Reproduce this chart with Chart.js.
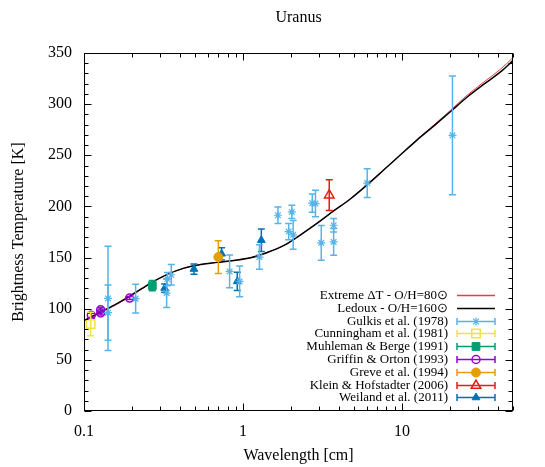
<!DOCTYPE html>
<html><head><meta charset="utf-8">
<script src="https://cdn.jsdelivr.net/npm/chart.js@4.4.0/dist/chart.umd.min.js"></script>
<style>html,body{margin:0;padding:0;background:#fff}canvas{display:block}</style>
</head><body>
<canvas id="c" width="545" height="467"></canvas>
<script>
// ---- data ----
const modelLambda = [0.1, 0.1273, 0.1621, 0.2063, 0.2626, 0.3343, 0.4255, 0.5417, 0.6896, 0.8779, 1.117, 1.422, 1.811, 2.305, 2.934, 3.735, 4.754, 6.053, 7.704, 9.808, 12.49, 15.90, 20.24, 25.76, 32.79, 41.74, 50];
const ledouxT   = [88.5, 96.8, 105.2, 114.9, 125.1, 133.6, 139.7, 143.3, 145.3, 147.2, 149.8, 155.0, 161.9, 172.3, 183.7, 195.8, 207.5, 221.2, 235.8, 250.5, 265.1, 278.8, 292.8, 307.0, 319.5, 331.5, 342.5];
const extremeT  = [88.0, 96.1, 104.5, 114.3, 124.7, 133.3, 139.6, 143.3, 145.3, 147.2, 149.8, 155.0, 161.9, 172.3, 183.7, 195.8, 207.5, 221.3, 236.0, 250.8, 265.6, 279.6, 294.0, 308.8, 321.6, 334.2, 345.5];

const gulkisLambda = [0.1416, 0.1416, 0.2113, 0.331, 0.334, 0.354, 0.824, 0.953, 1.27, 1.66, 2.03, 1.94, 2.07, 2.73, 2.86, 3.11, 3.72, 3.72, 6.05, 20.8];
const gulkisT      = [110.1, 96.1, 109.8, 115.3, 129.0, 133.2, 136.5, 126.7, 150.5, 191.4, 194.6, 175.4, 172.2, 203.2, 202.8, 164.4, 181.6, 165.3, 222.8, 269.5];
const gulkisErr    = [51, 27, 14, 14, 6.5, 10, 16, 15, 12, 8, 6.5, 8, 14, 9, 13, 17, 6.5, 13, 14, 58];

const cunninghamLambda = [0.1101];
const cunninghamT      = [85.0];
const cunninghamErr    = [11.5];

const muhlemanLambda = [0.269];
const muhlemanT      = [122.5];
const muhlemanErr    = [5];

const griffinLambda = [0.1112, 0.1273, 0.1273, 0.1937];
const griffinT      = [93.5, 99.0, 95.8, 110.4];
const griffinErr    = [2, 2, 2, 1.5];

const greveLambda = [0.70];
const greveT      = [150.5];
const greveErr    = [16];

const kleinLambda = [3.49];
const kleinT      = [211.0];
const kleinErr    = [15];

const weilandLambda = [0.3217, 0.4918, 0.734, 0.921, 1.305];
const weilandT      = [120.2, 138.8, 153.7, 126.7, 167.0];
const weilandErr    = [4, 5, 6, 9, 11];

const yTicks = [0, 50, 100, 150, 200, 250, 300, 350];
const xTickLabels = ['0.1', '1', '10'];

// ---- helpers ----
const pts = (xs, ys) => xs.map((x, i) => ({x: x, y: ys[i]}));
const SERIF = '"Liberation Serif", "Times New Roman", serif';
Chart.defaults.font.family = SERIF;
Chart.defaults.color = '#000';

function series(label, xs, ys, errs, color, style, radius, filled, bw) {
  return {
    label: label, data: pts(xs, ys), errors: errs,
    borderColor: color, backgroundColor: filled ? color : 'rgba(0,0,0,0)',
    pointStyle: style, pointRadius: radius, pointHoverRadius: radius,
    pointBorderWidth: bw, borderWidth: bw, showLine: false, order: 0
  };
}

const datasets = [
  {label: 'Extreme \u0394T - O/H=80\u2299', data: pts(modelLambda, extremeT), borderColor: '#f03c3c', borderWidth: 1,
   pointRadius: 0, showLine: true, cubicInterpolationMode: 'monotone', order: 10, isModel: true, legendWidth: 1.3},
  {label: 'Ledoux - O/H=160\u2299', data: pts(modelLambda, ledouxT), borderColor: '#000000', borderWidth: 1.5,
   pointRadius: 0, showLine: true, cubicInterpolationMode: 'monotone', order: 9, isModel: true, legendWidth: 1.5},
  series('Gulkis et al. (1978)', gulkisLambda, gulkisT, gulkisErr, '#56B4E9', 'star', 4, false, 1.2),
  series('Cunningham et al. (1981)', cunninghamLambda, cunninghamT, cunninghamErr, '#F0E442', 'rect', 6, false, 1.5),
  series('Muhleman & Berge (1991)', muhlemanLambda, muhlemanT, muhlemanErr, '#009E73', 'rect', 5.5, true, 1),
  series('Griffin & Orton (1993)', griffinLambda, griffinT, griffinErr, '#9400D3', 'circle', 4, false, 1.5),
  series('Greve et al. (1994)', greveLambda, greveT, greveErr, '#E69F00', 'circle', 4.5, true, 1),
  series('Klein & Hofstadter (2006)', kleinLambda, kleinT, kleinErr, '#E51E10', 'triangle', 5.5, false, 1.5),
  series('Weiland et al. (2011)', weilandLambda, weilandT, weilandErr, '#0072B2', 'triangle', 4.5, true, 1)
];

const CAP = 3.5;

const errorBars = {
  id: 'errorBars',
  beforeDatasetDraw(chart, args) {
    const ds = chart.data.datasets[args.index];
    if (!ds.errors) return;
    const {ctx, scales: {x, y}} = chart;
    ctx.save();
    ctx.strokeStyle = ds.borderColor;
    ctx.lineWidth = 1.5;
    ds.data.forEach((p, i) => {
      const e = ds.errors[i];
      const px = x.getPixelForValue(p.x);
      const t = y.getPixelForValue(p.y + e), b = y.getPixelForValue(p.y - e);
      ctx.beginPath();
      ctx.moveTo(px, t); ctx.lineTo(px, b);
      ctx.moveTo(px - CAP, t); ctx.lineTo(px + CAP, t);
      ctx.moveTo(px - CAP, b); ctx.lineTo(px + CAP, b);
      ctx.stroke();
    });
    ctx.restore();
  }
};

function drawMarker(ctx, ds, cx, cy) {
  ctx.fillStyle = ds.backgroundColor;
  ctx.strokeStyle = ds.borderColor;
  ctx.lineWidth = ds.pointBorderWidth;
  if (Chart.helpers && Chart.helpers.drawPoint) {
    Chart.helpers.drawPoint(ctx, {pointStyle: ds.pointStyle, radius: ds.pointRadius, borderWidth: ds.pointBorderWidth, rotation: 0}, cx, cy);
  }
}

const frameAndLegend = {
  id: 'frameAndLegend',
  afterDraw(chart) {
    const {ctx, chartArea: a, scales: {x, y}} = chart;
    ctx.save();
    ctx.strokeStyle = '#000';
    ctx.lineWidth = 1;
    const L = Math.round(a.left) + 0.5, R = Math.round(a.right) - 0.5;
    const T = Math.round(a.top) + 0.5, B = Math.round(a.bottom) - 0.5;
    ctx.beginPath();
    for (let v = 0; v <= 350; v += 10) {
      const py = Math.round(y.getPixelForValue(v)) + 0.5;
      const len = v % 50 === 0 ? 7 : 4;
      ctx.moveTo(L, py); ctx.lineTo(L + len, py);
      ctx.moveTo(R, py); ctx.lineTo(R - len, py);
    }
    [0.1, 1, 10].forEach(d => {
      for (let m = 1; m <= 9; m++) {
        const v = m * d;
        if (v < 0.1 - 1e-9 || v > 50 + 1e-9) continue;
        const px = Math.round(x.getPixelForValue(v)) + 0.5;
        const len = m === 1 ? 7 : 4;
        ctx.moveTo(px, B); ctx.lineTo(px, B - len);
        ctx.moveTo(px, T); ctx.lineTo(px, T + len);
      }
    });
    ctx.stroke();
    ctx.strokeRect(L, T, R - L, B - T);

    // legend
    const textRight = a.right - 65;
    const s1 = a.right - 56, s2 = a.right - 18, sc = (s1 + s2) / 2;
    let ry = a.bottom - 116;
    const step = 12.8;
    ctx.font = '13px ' + SERIF;
    ctx.textAlign = 'right';
    ctx.textBaseline = 'middle';
    chart.data.datasets.forEach(ds => {
      ctx.fillStyle = '#000';
      ctx.fillText(ds.label, textRight, ry + 0.5);
      ctx.strokeStyle = ds.borderColor;
      ctx.lineWidth = ds.isModel ? ds.legendWidth : 1.5;
      const yy = Math.round(ry) + 0.5;
      ctx.beginPath();
      ctx.moveTo(s1, yy); ctx.lineTo(s2, yy);
      if (!ds.isModel) {
        ctx.moveTo(s1, yy - CAP); ctx.lineTo(s1, yy + CAP);
        ctx.moveTo(s2, yy - CAP); ctx.lineTo(s2, yy + CAP);
      }
      ctx.stroke();
      if (!ds.isModel) drawMarker(ctx, ds, sc, yy);
      ry += step;
    });
    ctx.restore();
  }
};

new Chart(document.getElementById('c'), {
  type: 'scatter',
  data: {datasets: datasets},
  plugins: [errorBars, frameAndLegend],
  options: {
    responsive: false, animation: false,
    layout: {padding: {left: 0, right: 32, top: 0, bottom: 0}},
    plugins: {
      legend: {display: false}, tooltip: {enabled: false},
      title: {display: true, text: 'Uranus', fullSize: false, font: {size: 16, weight: 'normal', family: SERIF}, color: '#000', padding: {top: 8, bottom: 25.8}}
    },
    scales: {
      x: {
        type: 'logarithmic', min: 0.1, max: 50,
        grid: {display: false, drawTicks: false}, border: {display: false},
        afterBuildTicks(s) {
          s.ticks = xTickLabels.map(t => ({value: parseFloat(t)}));
        },
        ticks: {autoSkip: false, maxRotation: 0, padding: 11, font: {size: 16, family: SERIF}, color: '#000',
          callback(v) { const i = xTickLabels.findIndex(t => Math.abs(parseFloat(t) - v) < 1e-9); return i >= 0 ? xTickLabels[i] : ''; }},
        title: {display: true, text: 'Wavelength [cm]', font: {size: 16, family: SERIF}, color: '#000', padding: {top: 0, bottom: 2}},
        afterFit(s) { s.height = 56; }
      },
      y: {
        type: 'linear', min: 0, max: 350,
        grid: {display: false, drawTicks: false}, border: {display: false},
        afterBuildTicks(s) { s.ticks = yTicks.map(v => ({value: v})); },
        ticks: {padding: 12, font: {size: 16, family: SERIF}, color: '#000'},
        title: {display: true, text: 'Brightness Temperature [K]', font: {size: 16, family: SERIF}, color: '#000', padding: {top: 9, bottom: 0}},
        afterFit(s) { s.width = 84; }
      }
    }
  }
});
</script>
</body></html>
